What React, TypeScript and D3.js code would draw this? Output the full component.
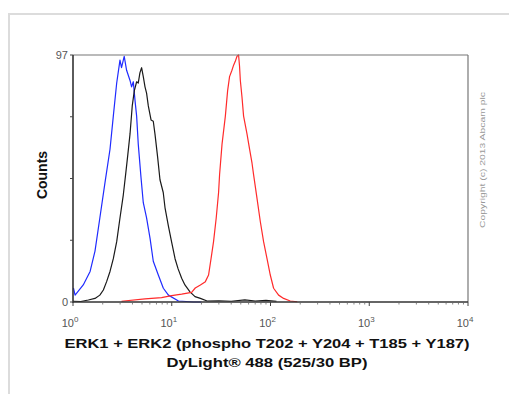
import React from 'react';
import * as d3 from 'd3';

// intensity (DyLight 488) and counts
const blueX = [1.01, 1.05, 1.27, 1.49, 1.67, 1.87, 2.11, 2.37, 2.56, 2.77, 2.99, 3.1, 3.3, 3.49, 3.78, 3.92, 4.08, 4.25, 4.41, 4.58, 4.88, 5.15, 5.56, 6.03, 6.5, 7.31, 8.22, 9.25, 11.7, 16.6, 20];
const blueY = [5.5, 2.7, 6.7, 12, 20, 33, 47, 60, 73, 86, 95, 92, 96.5, 91, 87, 84.5, 86.5, 79, 73, 62, 49, 39, 33, 25, 16, 10.6, 5.4, 2.7, 0.4, 0, 0];

const blackX = [1, 1.2, 1.43, 1.67, 1.87, 2.03, 2.19, 2.37, 2.56, 2.77, 2.99, 3.23, 3.41, 3.57, 3.78, 3.98, 4.18, 4.41, 4.58, 4.76, 4.95, 5.15, 5.36, 5.56, 5.79, 6.17, 6.5, 6.76, 7.19, 7.6, 8.2, 8.55, 9.23, 9.95, 10.8, 11.6, 12.6, 13.6, 15.3, 17.2, 19.5, 22.8, 30, 40, 55, 70, 90, 115];
const blackY = [0.3, 0.2, 0.8, 1.4, 2.7, 4.7, 8, 12, 17, 23.7, 33, 42, 50, 57, 66, 77, 83, 86.5, 86, 90, 92, 88.5, 84.5, 82, 77, 71.5, 71, 66, 57, 48, 43, 37, 30, 23.7, 17, 13, 9.3, 6.7, 4, 2.1, 1.4, 0.4, 0.5, 0.3, 0.8, 0.4, 0.6, 0.3];

const redX = [3.1, 5.36, 7.89, 9.96, 12.6, 15.9, 17.3, 19.5, 21.9, 23.6, 25.0, 26.5, 28.2, 29.8, 30.5, 32.3, 34.9, 36.8, 38.5, 40.7, 42.3, 44.0, 45.8, 47.5, 48.6, 49.5, 51.4, 53.4, 57.8, 61.4, 65.0, 67.4, 73.0, 78.9, 85.1, 92.2, 99.5, 107.5, 120.8, 135.8, 158.5, 186.6];
const redY = [0.3, 1.2, 1.7, 2.5, 3.1, 3.8, 5.5, 6.7, 8, 10.6, 17, 23.7, 33, 43, 50, 62, 73, 83, 88.5, 91, 93, 94.5, 96.5, 97, 92.5, 87, 80.6, 73, 66, 60, 54.5, 50, 40.7, 31.5, 23.7, 17, 10.6, 5.4, 2.7, 1.4, 0.4, 0.1];

const decades = [1, 10, 100, 1000, 10000];
const yTicks = [0, 24.25, 48.5, 72.75, 97];
const yLabels = ['97', '0'];

const W = 509;
const H = 394;
const plot = { left: 73, right: 468, top: 55, bottom: 302 };

export default function App() {
  const x = d3.scaleLog().domain([1, 10000]).range([plot.left, plot.right]);
  const y = d3.scaleLinear().domain([0, 97]).range([plot.bottom, plot.top]);

  const line = d3.line<[number, number]>()
    .x(d => x(d[0]))
    .y(d => y(d[1]));

  const series = [
    { xs: blueX, ys: blueY, color: '#1f2bff' },
    { xs: blackX, ys: blackY, color: '#1a1a1a' },
    { xs: redX, ys: redY, color: '#ff2b2b' },
  ];

  const minor: number[] = [];
  decades.slice(0, -1).forEach(d => {
    for (let k = 2; k < 10; k++) minor.push(d * k);
  });

  return (
    <svg width={W} height={H} style={{ position: 'absolute', left: 0, top: 0, fontFamily: 'Arial, "Liberation Sans", sans-serif' }}>
      <rect x={0} y={0} width={W} height={H} fill="#fff" />
      {/* outer frame */}
      <path d={`M9,${H} V14 H${W}`} fill="none" stroke="#dcdcdc" strokeWidth={2} />

      {/* curves */}
      {series.map((s, i) => (
        <path
          key={i}
          d={line(s.xs.map((v, j) => [v, s.ys[j]] as [number, number])) || ''}
          fill="none"
          stroke={s.color}
          strokeWidth={1.2}
          strokeLinejoin="round"
        />
      ))}

      {/* plot box */}
      <line x1={plot.left} x2={plot.right} y1={plot.top} y2={plot.top} stroke="#777" strokeWidth={1.2} />
      <line x1={plot.right} x2={plot.right} y1={plot.top} y2={plot.bottom} stroke="#777" strokeWidth={1.2} />
      <line x1={plot.left} x2={plot.left} y1={plot.top} y2={plot.bottom + 1} stroke="#333" strokeWidth={1.6} />
      <line x1={plot.left} x2={plot.right} y1={plot.bottom} y2={plot.bottom} stroke="#333" strokeWidth={1.6} />

      {/* y ticks */}
      {yTicks.map((t, i) => (
        <line key={i} x1={plot.left - 3} x2={plot.left} y1={y(t)} y2={y(t)} stroke="#444" strokeWidth={1} />
      ))}
      <text x={plot.left - 5} y={y(97) + 4} textAnchor="end" fontSize={11} fill="#555">{yLabels[0]}</text>
      <text x={plot.left - 5} y={y(0) + 4} textAnchor="end" fontSize={11} fill="#555">{yLabels[1]}</text>

      {/* x ticks */}
      {decades.map((d, i) => (
        <line key={'M' + i} x1={x(d)} x2={x(d)} y1={plot.bottom} y2={plot.bottom + 4} stroke="#444" strokeWidth={1} />
      ))}
      {minor.map((d, i) => (
        <line key={'m' + i} x1={x(d)} x2={x(d)} y1={plot.bottom} y2={plot.bottom + 2.5} stroke="#666" strokeWidth={0.8} />
      ))}
      {decades.map((d, i) => (
        <text key={'l' + i} x={x(d) - 3} y={327} textAnchor="middle" fontSize={11} fill="#555">
          10<tspan dy={-5} fontSize={8}>{i}</tspan>
        </text>
      ))}

      {/* axis titles */}
      <text
        transform="translate(47,175) rotate(-90)"
        textAnchor="middle"
        fontSize={14}
        fontWeight="bold"
        fill="#111"
      >Counts</text>
      <text x={267} y={348} textAnchor="middle" fontSize={13} fontWeight="bold" fill="#111" textLength={405} lengthAdjust="spacingAndGlyphs">
        ERK1 + ERK2 (phospho T202 + Y204 + T185 + Y187)
      </text>
      <text x={267} y={367} textAnchor="middle" fontSize={13} fontWeight="bold" fill="#111" textLength={201} lengthAdjust="spacingAndGlyphs">
        DyLight® 488 (525/30 BP)
      </text>

      <text
        transform="translate(485,160) rotate(-90)"
        textAnchor="middle"
        fontSize={8}
        fill="#999"
        textLength={136}
        lengthAdjust="spacingAndGlyphs"
      >Copyright (c) 2013 Abcam plc</text>
    </svg>
  );
}
